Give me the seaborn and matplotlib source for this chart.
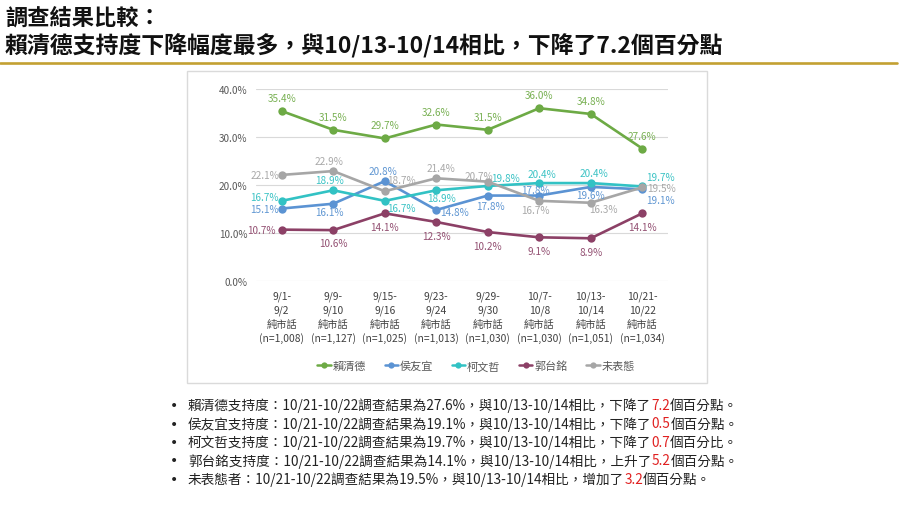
import matplotlib
matplotlib.use("Agg")
import matplotlib.pyplot as plt
import numpy as np
import pandas as pd
import seaborn as sns
from matplotlib.lines import Line2D
from matplotlib.patches import Rectangle

# ---------------- data ----------------
period_start = ["9/1-", "9/9-", "9/15-", "9/23-", "9/29-", "10/7-", "10/13-", "10/21-"]
period_end = ["9/2", "9/10", "9/16", "9/24", "9/30", "10/8", "10/14", "10/22"]
method = "純市話"
samples = ["(n=1,008)", "(n=1,127)", "(n=1,025)", "(n=1,013)", "(n=1,030)",
           "(n=1,030)", "(n=1,051)", "(n=1,034)"]
candidates = ["賴清德", "侯友宜", "柯文哲", "郭台銘", "未表態"]
lai = [35.4, 31.5, 29.7, 32.6, 31.5, 36.0, 34.8, 27.6]
hou = [15.1, 16.1, 20.8, 14.8, 17.8, 17.8, 19.6, 19.1]
ko = [16.7, 18.9, 16.7, 18.9, 19.8, 20.4, 20.4, 19.7]
gou = [10.7, 10.6, 14.1, 12.3, 10.2, 9.1, 8.9, 14.1]
undecided = [22.1, 22.9, 18.7, 21.4, 20.7, 16.7, 16.3, 19.5]
y_ticks = [0, 10, 20, 30, 40]

title_line1 = "調查結果比較："
title_line2 = "賴清德支持度下降幅度最多，與10/13-10/14相比，下降了7.2個百分點"
summary_lead = [
    "賴清德支持度：10/21-10/22調查結果為27.6%，與10/13-10/14相比，下降了",
    "侯友宜支持度：10/21-10/22調查結果為19.1%，與10/13-10/14相比，下降了",
    "柯文哲支持度：10/21-10/22調查結果為19.7%，與10/13-10/14相比，下降了",
    "郭台銘支持度：10/21-10/22調查結果為14.1%，與10/13-10/14相比，上升了",
    "未表態者：10/21-10/22調查結果為19.5%，與10/13-10/14相比，增加了",
]
summary_change = ["7.2", "0.5", "0.7", "5.2", "3.2"]
summary_tail = ["個百分點。", "個百分點。", "個百分比。", "個百分點。", "個百分點。"]

# ---------------- style ----------------
sns.set_style("white")
plt.rcParams["font.family"] = ["Noto Sans CJK TC", "DejaVu Sans"]

colors = {"賴清德": "#6DAA45", "侯友宜": "#5B93D3", "柯文哲": "#32C2C4",
          "郭台銘": "#8C4066", "未表態": "#A6A6A6"}
label_colors = {"賴清德": "#78B052", "侯友宜": "#5F96D2", "柯文哲": "#3CC3C5",
                "郭台銘": "#935072", "未表態": "#A9A9A9"}
# label centre offsets in pixels (dx, dy) per point
offsets = {
    "賴清德": [(0, 13)] * 8,
    "侯友宜": [(-17, 0), (-4, -8), (-2, 10), (18, -2), (3, -10), (-4, 6), (0, -8), (18, -11)],
    "柯文哲": [(-17, 4), (-4, 10), (17, -7), (5, -8), (18, 8), (3, 9), (3, 10), (18, 9)],
    "郭台銘": [(-20, 0), (0, -13), (0, -14), (0, -14), (0, -14), (0, -14), (0, -14), (0, -14)],
    "未表態": [(-17, 0), (-4, 10), (17, 11), (5, 10), (-9, 6), (-4, -9), (13, -6), (19, -1)],
}

W, H = 900, 506
fig = plt.figure(figsize=(W / 100, H / 100), dpi=100)
fig.patch.set_facecolor("white")

# chart frame
fig.patches.append(Rectangle((187 / W, 1 - 384 / H), 520 / W, 312 / H,
                             transform=fig.transFigure, fill=False,
                             edgecolor="#DADADA", linewidth=1.0, zorder=0))
# gold divider
fig.add_artist(Line2D([0, 0.997], [1 - 64 / H, 1 - 64 / H], transform=fig.transFigure,
                      color="#C3A032", linewidth=1.9))

ax = fig.add_axes([256 / W, 1 - 282 / H, 412 / W, 192 / H])

series = {"賴清德": lai, "侯友宜": hou, "柯文哲": ko, "郭台銘": gou, "未表態": undecided}
rows = []
for name in candidates:
    for i, v in enumerate(series[name]):
        rows.append({"idx": i, "value": v, "name": name})
df = pd.DataFrame(rows)

sns.lineplot(data=df, x="idx", y="value", hue="name", hue_order=candidates,
             palette=colors, marker="o", markersize=6, markeredgewidth=0,
             linewidth=1.9, legend=False, ax=ax, zorder=3)

for name in candidates:
    for i, v in enumerate(series[name]):
        dx, dy = offsets[name][i]
        ax.annotate(f"{v:.1f}%", (i, v), xytext=(dx, dy), textcoords="offset pixels",
                    ha="center", va="center", fontsize=7.2, color=label_colors[name],
                    zorder=5)

ax.set_xlim(-0.5, 7.5)
ax.set_ylim(0, 40)
ax.set_yticks(y_ticks)
ax.set_yticklabels([f"{t:.1f}%" for t in y_ticks], fontsize=7.2, color="#595959")
xt_labels = [f"{s}\n{e}\n{method}\n{n}" for s, e, n in zip(period_start, period_end, samples)]
ax.set_xticks(range(len(xt_labels)))
ax.set_xticklabels(xt_labels, fontsize=7.4, color="#404040", linespacing=1.42)
ax.tick_params(axis="both", length=0)
ax.tick_params(axis="x", pad=7)
ax.tick_params(axis="y", pad=6)
ax.set_xlabel("")
ax.set_ylabel("")
ax.grid(axis="y", color="#D9D9D9", linewidth=0.8)
ax.grid(axis="x", visible=False)
for s in ax.spines.values():
    s.set_visible(False)
ax.set_facecolor("none")

handles = [Line2D([0], [0], color=colors[c], marker="o", markersize=4.5, linewidth=1.8,
                  markeredgewidth=0) for c in candidates]
fig.legend(handles, candidates, loc="center", bbox_to_anchor=(476 / W, 1 - 367 / H),
           ncol=5, frameon=False, fontsize=8, handlelength=1.2, handletextpad=0.15,
           columnspacing=1.7, labelcolor="#595959")

# title
fig.text(5 / W, 1 - 18 / H, title_line1, fontsize=16, fontweight="bold",
         color="#111111", ha="left", va="center")
t2 = fig.text(5 / W, 1 - 46 / H, title_line2, fontsize=16.5, fontweight="bold",
              color="#111111", ha="left", va="center")

# summary bullets
renderer = fig.canvas.get_renderer()
line_ys = [406, 424.5, 443, 461.5, 480]
for lead, chg, tail, yy in zip(summary_lead, summary_change, summary_tail, line_ys):
    y = 1 - yy / H
    fig.text(170 / W, y, "•", fontsize=10, color="#222222", ha="left", va="center",
             family=["DejaVu Sans"])
    x = 188 / W
    for txt, col in [(lead, "#222222"), (chg, "#E02020"), (tail, "#222222")]:
        t = fig.text(x, y, txt, fontsize=9.8, color=col, ha="left", va="center")
        bb = t.get_window_extent(renderer=renderer)
        x = bb.x1 / W

fig.savefig("out.png", dpi=100, facecolor="white")
